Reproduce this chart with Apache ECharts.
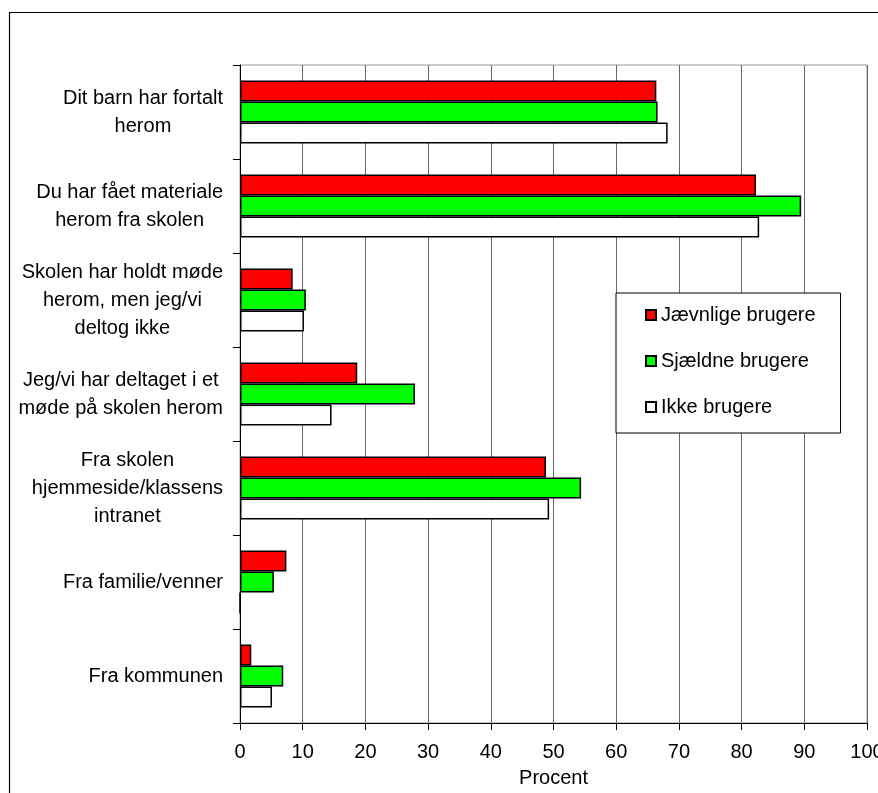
<!DOCTYPE html>
<html>
<head>
<meta charset="utf-8">
<script src="https://cdn.jsdelivr.net/npm/echarts@6/dist/echarts.min.js"></script>
<style>
html,body{margin:0;padding:0;background:#fff;}
#chart{width:878px;height:793px;}
</style>
</head>
<body>
<div id="chart"></div>
<script>
const categories = [
  "Dit barn har fortalt\nherom",
  "Du har fået materiale\nherom fra skolen",
  "Skolen har holdt møde\nherom, men jeg/vi\ndeltog ikke",
  "Jeg/vi har deltaget i et\nmøde på skolen herom",
  "Fra skolen\nhjemmeside/klassens\nintranet",
  "Fra familie/venner",
  "Fra kommunen"
];
const seriesNames = ["Jævnlige brugere", "Sjældne brugere", "Ikke brugere"];
const jaevnlige = [66.4, 82.3, 8.4, 18.7, 48.8, 7.4, 1.8];
const sjaeldne  = [66.6, 89.5, 10.5, 27.9, 54.4, 5.4, 6.9];
const ikke      = [68.2, 82.8, 10.2, 14.6, 49.3, 0, 5.1];
const xTicks = { min: 0, max: 100, interval: 10 };

const colors = ["#FF0000", "#00FF00", "#FFFFFF"];
const FONT = "Liberation Sans, Arial, sans-serif";

const chart = echarts.init(document.getElementById('chart'), null, { renderer: 'canvas' });

function mkSeries(name, data, color) {
  return {
    name: name,
    type: 'bar',
    data: data,
    barGap: '0%',
    barCategoryGap: '33%',
    itemStyle: { color: color, borderColor: '#000', borderWidth: 1.5 },
    emphasis: { disabled: true },
    animation: false
  };
}

chart.setOption({
  animation: false,
  backgroundColor: '#fff',
  textStyle: { fontFamily: FONT },
  graphic: [{
    type: 'rect',
    shape: { x: 9.5, y: 12.5, width: 1000, height: 1000 },
    style: { fill: 'none', stroke: '#000', lineWidth: 1.2 },
    silent: true,
    z: -10
  }],
  grid: {
    left: 240, right: 11, top: 65, bottom: 70,
    outerBoundsMode: 'none',
    containLabel: false,
    show: true, borderColor: '#999', borderWidth: 1, backgroundColor: 'transparent'
  },
  legend: {
    orient: 'vertical',
    left: 616, top: 293,
    padding: [12, 25, 16, 29],
    itemGap: 26,
    itemWidth: 10, itemHeight: 10,
    icon: 'rect',
    backgroundColor: '#fff',
    borderColor: '#000', borderWidth: 1,
    textStyle: { fontSize: 20, color: '#000', fontFamily: FONT },
    data: seriesNames
  },
  xAxis: {
    type: 'value',
    min: xTicks.min, max: xTicks.max, interval: xTicks.interval,
    name: 'Procent',
    nameLocation: 'middle',
    nameGap: 45,
    nameTextStyle: { fontSize: 20, color: '#000', fontFamily: FONT },
    axisLine: { show: true, lineStyle: { color: '#000', width: 1 } },
    axisTick: { show: true, length: 7, lineStyle: { color: '#000' } },
    axisLabel: { fontSize: 20, color: '#000', margin: 19, fontFamily: FONT },
    splitLine: { show: true, lineStyle: { color: '#666', width: 1 } }
  },
  yAxis: {
    type: 'category',
    inverse: true,
    data: categories,
    axisLine: { show: true, lineStyle: { color: '#000', width: 1 } },
    axisTick: { show: true, length: 7, lineStyle: { color: '#000' } },
    axisLabel: {
      margin: 17,
      align: 'right',
      fontSize: 20,
      color: '#000',
      lineHeight: 28,
      fontFamily: FONT,
      formatter: function (v) {
        return v.split('\n').map(function (l) { return '{c|' + l + '}'; }).join('\n');
      },
      rich: {
        c: { align: 'center', fontSize: 20, lineHeight: 28, color: '#000', fontFamily: FONT }
      }
    },
    splitLine: { show: false }
  },
  series: [
    mkSeries(seriesNames[0], jaevnlige, colors[0]),
    mkSeries(seriesNames[1], sjaeldne, colors[1]),
    mkSeries(seriesNames[2], ikke, colors[2])
  ]
});
</script>
</body>
</html>
